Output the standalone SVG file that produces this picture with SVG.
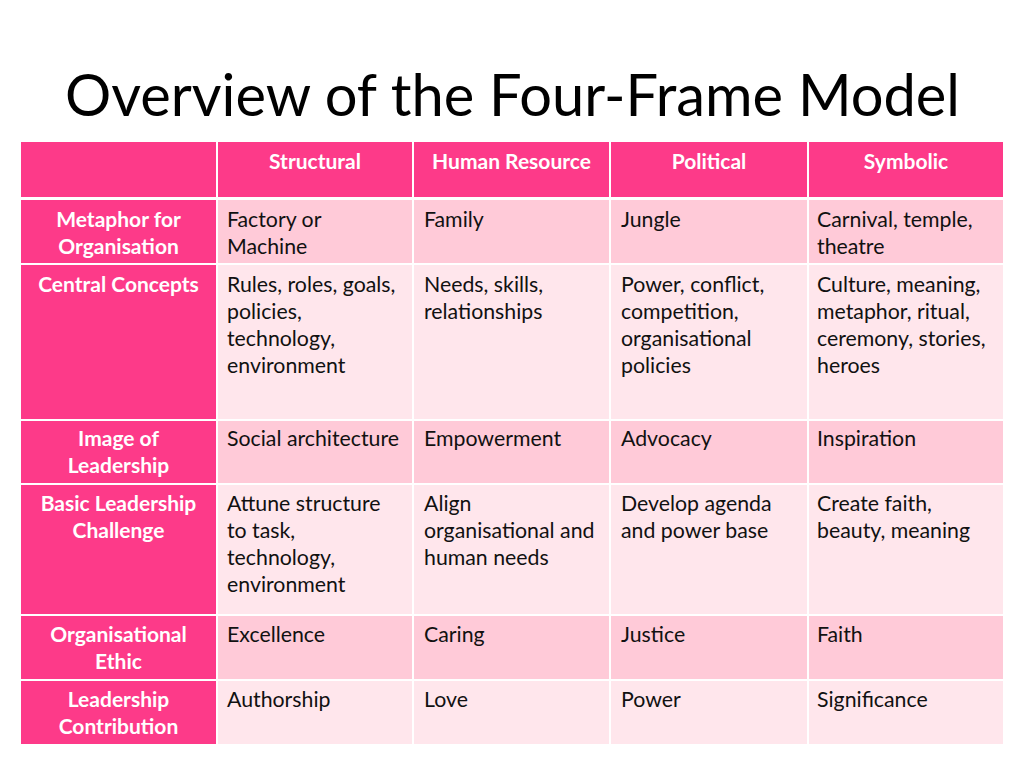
<svg xmlns="http://www.w3.org/2000/svg" width="1024" height="768" viewBox="0 0 1024 768">
<style>
.hd{fill:#FD3A89}
.odd{fill:#FFCAD8}
.even{fill:#FFE6EC}
.t{font-family:Lato,"Liberation Sans",sans-serif;font-size:21.3px;fill:#111}
.lb{font-family:Lato,"Liberation Sans",sans-serif;font-size:21px;font-weight:bold;fill:#fff;text-anchor:middle}
.title{font-family:Lato,"Liberation Sans",sans-serif;font-size:57.8px;fill:#000}
</style>
<rect width="1024" height="768" fill="#fff"/>
<text class="title" x="65" y="116">Overview of the Four-Frame Model</text>

<g id="header">
<rect class="hd" x="21" y="142" width="195" height="55"/>
<rect class="hd" x="218" y="142" width="194" height="55"/>
<rect class="hd" x="414" y="142" width="195" height="55"/>
<rect class="hd" x="611" y="142" width="196" height="55"/>
<rect class="hd" x="809" y="142" width="194" height="55"/>
<text class="lb" x="315" y="169">Structural</text>
<text class="lb" x="511.5" y="169">Human Resource</text>
<text class="lb" x="709" y="169">Political</text>
<text class="lb" x="906" y="169">Symbolic</text>
</g>

<g id="row1">
<rect class="hd" x="21" y="200" width="195" height="63"/>
<rect class="odd" x="218" y="200" width="194" height="63"/>
<rect class="odd" x="414" y="200" width="195" height="63"/>
<rect class="odd" x="611" y="200" width="196" height="63"/>
<rect class="odd" x="809" y="200" width="194" height="63"/>
<text class="lb" x="118.5" y="227">Metaphor for<tspan x="118.5" dy="27">Organisation</tspan></text>
<text class="t" x="227" y="227">Factory or<tspan x="227" dy="27">Machine</tspan></text>
<text class="t" x="424" y="227">Family</text>
<text class="t" x="621" y="227">Jungle</text>
<text class="t" x="817" y="227">Carnival, temple,<tspan x="817" dy="27">theatre</tspan></text>
</g>

<g id="row2">
<rect class="hd" x="21" y="265" width="195" height="154"/>
<rect class="even" x="218" y="265" width="194" height="154"/>
<rect class="even" x="414" y="265" width="195" height="154"/>
<rect class="even" x="611" y="265" width="196" height="154"/>
<rect class="even" x="809" y="265" width="194" height="154"/>
<text class="lb" x="118.5" y="292">Central Concepts</text>
<text class="t" x="227" y="292">Rules, roles, goals,<tspan x="227" dy="27">policies,</tspan><tspan x="227" dy="27">technology,</tspan><tspan x="227" dy="27">environment</tspan></text>
<text class="t" x="424" y="292">Needs, skills,<tspan x="424" dy="27">relationships</tspan></text>
<text class="t" x="621" y="292">Power, conflict,<tspan x="621" dy="27">competition,</tspan><tspan x="621" dy="27">organisational</tspan><tspan x="621" dy="27">policies</tspan></text>
<text class="t" x="817" y="292">Culture, meaning,<tspan x="817" dy="27">metaphor, ritual,</tspan><tspan x="817" dy="27">ceremony, stories,</tspan><tspan x="817" dy="27">heroes</tspan></text>
</g>

<g id="row3">
<rect class="hd" x="21" y="421" width="195" height="62"/>
<rect class="odd" x="218" y="421" width="194" height="62"/>
<rect class="odd" x="414" y="421" width="195" height="62"/>
<rect class="odd" x="611" y="421" width="196" height="62"/>
<rect class="odd" x="809" y="421" width="194" height="62"/>
<text class="lb" x="118.5" y="446">Image of<tspan x="118.5" dy="27">Leadership</tspan></text>
<text class="t" x="227" y="446">Social architecture</text>
<text class="t" x="424" y="446">Empowerment</text>
<text class="t" x="621" y="446">Advocacy</text>
<text class="t" x="817" y="446">Inspiration</text>
</g>

<g id="row4">
<rect class="hd" x="21" y="485" width="195" height="129"/>
<rect class="even" x="218" y="485" width="194" height="129"/>
<rect class="even" x="414" y="485" width="195" height="129"/>
<rect class="even" x="611" y="485" width="196" height="129"/>
<rect class="even" x="809" y="485" width="194" height="129"/>
<text class="lb" x="118.5" y="511">Basic Leadership<tspan x="118.5" dy="27">Challenge</tspan></text>
<text class="t" x="227" y="511">Attune structure<tspan x="227" dy="27">to task,</tspan><tspan x="227" dy="27">technology,</tspan><tspan x="227" dy="27">environment</tspan></text>
<text class="t" x="424" y="511">Align<tspan x="424" dy="27">organisational and</tspan><tspan x="424" dy="27">human needs</tspan></text>
<text class="t" x="621" y="511">Develop agenda<tspan x="621" dy="27">and power base</tspan></text>
<text class="t" x="817" y="511">Create faith,<tspan x="817" dy="27">beauty, meaning</tspan></text>
</g>

<g id="row5">
<rect class="hd" x="21" y="616" width="195" height="63"/>
<rect class="odd" x="218" y="616" width="194" height="63"/>
<rect class="odd" x="414" y="616" width="195" height="63"/>
<rect class="odd" x="611" y="616" width="196" height="63"/>
<rect class="odd" x="809" y="616" width="194" height="63"/>
<text class="lb" x="118.5" y="642">Organisational<tspan x="118.5" dy="27">Ethic</tspan></text>
<text class="t" x="227" y="642">Excellence</text>
<text class="t" x="424" y="642">Caring</text>
<text class="t" x="621" y="642">Justice</text>
<text class="t" x="817" y="642">Faith</text>
</g>

<g id="row6">
<rect class="hd" x="21" y="681" width="195" height="63"/>
<rect class="even" x="218" y="681" width="194" height="63"/>
<rect class="even" x="414" y="681" width="195" height="63"/>
<rect class="even" x="611" y="681" width="196" height="63"/>
<rect class="even" x="809" y="681" width="194" height="63"/>
<text class="lb" x="118.5" y="707">Leadership<tspan x="118.5" dy="27">Contribution</tspan></text>
<text class="t" x="227" y="707">Authorship</text>
<text class="t" x="424" y="707">Love</text>
<text class="t" x="621" y="707">Power</text>
<text class="t" x="817" y="707">Significance</text>
</g>
</svg>
